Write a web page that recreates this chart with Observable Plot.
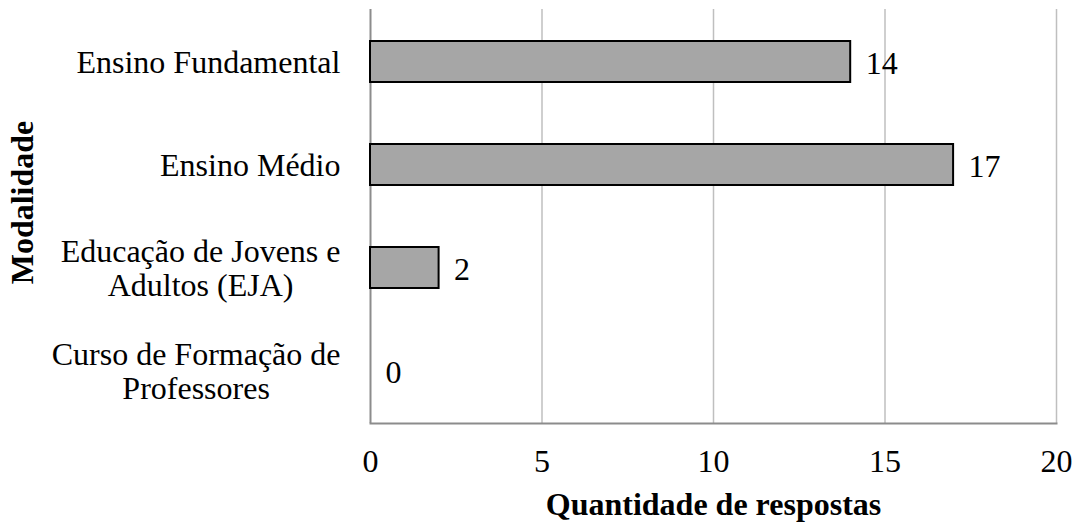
<!DOCTYPE html>
<html>
<head>
<meta charset="utf-8">
<script src="https://cdn.jsdelivr.net/npm/d3@7"></script>
<script src="https://cdn.jsdelivr.net/npm/@observablehq/plot@0.6"></script>
<style>
  html, body { margin: 0; padding: 0; background: #fff; }
  #chart { width: 1081px; height: 524px; }
</style>
</head>
<body>
<div id="chart"></div>
<script>
const categories = [
  "Ensino Fundamental",
  "Ensino Médio",
  "Educação de Jovens e Adultos (EJA)",
  "Curso de Formação de Professores"
];
const categoryLabels = [
  "Ensino Fundamental",
  "Ensino Médio",
  "Educação de Jovens e\nAdultos (EJA)",
  "Curso de Formação de\nProfessores"
];
const values = [14, 17, 2, 0];
const xTicks = [0, 5, 10, 15, 20];
const gridTicks = [5, 10, 15, 20];
const xTitle = "Quantidade de respostas";
const yTitle = "Modalidade";

const data = categories.map((c, i) => ({cat: c, label: categoryLabels[i], value: values[i]}));

const font = "'Liberation Serif', 'Times New Roman', serif";

const chart = Plot.plot({
  width: 1081,
  height: 524,
  marginLeft: 370,
  marginRight: 25,
  marginTop: 9,
  marginBottom: 101,
  style: {fontFamily: font, fontSize: "32px", color: "#000", background: "#fff"},
  x: {domain: [0, 20], axis: null},
  y: {domain: categories, paddingInner: 0.6, paddingOuter: 0.3, axis: null},
  marks: [
    Plot.ruleX(gridTicks, {stroke: "#bfbfbf", strokeWidth: 1.5}),
    Plot.frame({anchor: "bottom", stroke: "#8c8c8c", strokeWidth: 2}),
    Plot.ruleX([0], {stroke: "#8c8c8c", strokeWidth: 2}),
    Plot.barX(data.filter(d => d.value > 0), {y: "cat", x: "value", fill: "#a6a6a6", stroke: "#000", strokeWidth: 2}),
    Plot.text(data, {y: "cat", x: "value", text: d => String(d.value), textAnchor: "start", dx: 15, dy: 2, fill: "#000"}),
    Plot.axisX(xTicks, {tickSize: 0, tickPadding: 26, fontSize: 32, label: null, tickFormat: d => String(d), fill: "#000"}),
    Plot.text(data, {y: "cat", text: "label", frameAnchor: "left", dx: -30, textAnchor: "middle", lineAnchor: "middle", lineHeight: 1.06, fill: "#000", className: "catlabels"}),
    Plot.text([xTitle], {frameAnchor: "bottom", textAnchor: "middle", lineAnchor: "top", dy: 69, fontWeight: "bold", fill: "#000"}),
    Plot.text([yTitle], {frameAnchor: "left", textAnchor: "middle", rotate: -90, dx: -348, dy: -14, lineAnchor: "middle", fontWeight: "bold", fill: "#000"})
  ]
});

document.getElementById("chart").appendChild(chart);

// Right-align each category label block while keeping its lines centered
d3.select(chart).selectAll("g.catlabels text").each(function() {
  const bb = this.getBBox();
  const t = this.getAttribute("transform") || "";
  this.setAttribute("transform", t + ` translate(${-bb.width / 2},0)`);
});
</script>
</body>
</html>
